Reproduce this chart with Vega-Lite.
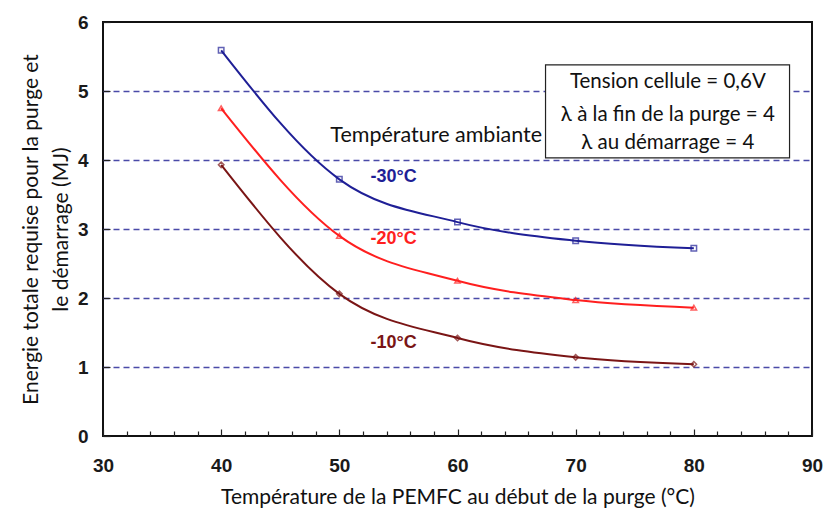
{
  "$schema": "https://vega.github.io/schema/vega-lite/v6.json",
  "width": 709,
  "height": 414,
  "autosize": "none",
  "padding": {"left": 103, "top": 22, "right": 18, "bottom": 75},
  "background": "white",
  "config": {
    "view": {"stroke": "#111111", "strokeWidth": 2},
    "axis": {
      "domain": false,
      "labelFont": "Liberation Sans",
      "labelFontWeight": "bold",
      "labelFontSize": 19,
      "labelColor": "#1a1a1a",
      "tickColor": "#222222",
      "tickWidth": 1.2,
      "titleFont": "Lato",
      "titleFontWeight": "normal",
      "titleFontSize": 21,
      "titleColor": "#111111"
    }
  },
  "encoding": {
    "x": {
      "field": "x", "type": "quantitative",
      "scale": {"domain": [30, 90], "nice": false},
      "axis": {
        "title": "Température de la PEMFC au début de la purge (°C)",
        "tickCount": 40,
        "format": "d",
        "labelExpr": "datum.value % 10 === 0 ? datum.label : ''",
        "tickSize": {"condition": {"test": "datum.value % 10 === 0", "value": -7}, "value": -5},
        "labelPadding": 27,
        "labelFlush": false,
        "labelOverlap": false,
        "grid": false,
        "titlePadding": 9
      }
    },
    "y": {
      "field": "y", "type": "quantitative",
      "scale": {"domain": [0, 6], "nice": false},
      "axis": {
        "title": ["Energie totale requise pour la purge et", "le démarrage (MJ)"],
        "titleLineHeight": 30,
        "tickCount": 40,
        "format": "d",
        "labelExpr": "abs(datum.value - round(datum.value)) < 0.01 ? datum.label : ''",
        "tickSize": {"condition": {"test": "abs(datum.value - round(datum.value)) < 0.01", "value": -7}, "value": -5},
        "labelPadding": 22,
        "labelFlush": false,
        "labelOverlap": false,
        "grid": true,
        "gridColor": "#4a4aa8",
        "gridDash": [6, 4],
        "gridWidth": 1.5,
        "gridOpacity": {"condition": {"test": "abs(datum.value - round(datum.value)) < 0.01 && datum.value > 0.5 && datum.value < 5.5", "value": 1}, "value": 0},
        "titlePadding": 6
      }
    }
  },
  "layer": [
    {
      "data": {"values": [
        {"serie": "-30°C", "x": 40, "y": 5.59},
        {"serie": "-30°C", "x": 50, "y": 3.72},
        {"serie": "-30°C", "x": 60, "y": 3.10},
        {"serie": "-30°C", "x": 70, "y": 2.83},
        {"serie": "-30°C", "x": 80, "y": 2.72},
        {"serie": "-20°C", "x": 40, "y": 4.75},
        {"serie": "-20°C", "x": 50, "y": 2.90},
        {"serie": "-20°C", "x": 60, "y": 2.25},
        {"serie": "-20°C", "x": 70, "y": 1.97},
        {"serie": "-20°C", "x": 80, "y": 1.86},
        {"serie": "-10°C", "x": 40, "y": 3.93},
        {"serie": "-10°C", "x": 50, "y": 2.06},
        {"serie": "-10°C", "x": 60, "y": 1.42},
        {"serie": "-10°C", "x": 70, "y": 1.14},
        {"serie": "-10°C", "x": 80, "y": 1.04}
      ]},
      "layer": [
        {
          "mark": {"type": "line", "interpolate": "monotone", "strokeWidth": 2},
          "encoding": {
            "color": {
              "field": "serie", "type": "nominal",
              "scale": {"domain": ["-30°C", "-20°C", "-10°C"], "range": ["#1f1f96", "#ff1f1f", "#7a1515"]},
              "legend": null
            }
          }
        },
        {
          "mark": {"type": "point", "filled": false, "size": 30, "strokeWidth": 1.5},
          "encoding": {
            "color": {"field": "serie", "type": "nominal", "legend": null},
            "shape": {
              "field": "serie", "type": "nominal",
              "scale": {"domain": ["-30°C", "-20°C", "-10°C"], "range": ["square", "triangle-up", "diamond"]},
              "legend": null
            }
          }
        }
      ]
    },
    {
      "data": {"values": [{"x": 67.45, "x2": 88.1, "y": 5.38, "y2": 4.03}]},
      "mark": {"type": "rect", "fill": "white", "stroke": "#222222", "strokeWidth": 1.2},
      "encoding": {
        "x2": {"field": "x2"},
        "y2": {"field": "y2"}
      }
    },
    {
      "data": {"values": [
        {"t": "Tension cellule = 0,6V", "x": 77.8, "y": 5.13, "s": "box"},
        {"t": "λ à la fin de la purge = 4", "x": 77.8, "y": 4.65, "s": "box"},
        {"t": "λ au démarrage = 4", "x": 77.8, "y": 4.25, "s": "box"},
        {"t": "Température ambiante", "x": 58.2, "y": 4.35, "s": "amb"}
      ]},
      "mark": {"type": "text", "font": "Lato", "color": "#111111", "align": "center", "baseline": "middle"},
      "encoding": {
        "text": {"field": "t"},
        "size": {"field": "s", "type": "nominal", "scale": {"domain": ["box", "amb"], "range": [20.5, 21.5]}, "legend": null}
      }
    },
    {
      "data": {"values": [
        {"t": "-30°C", "x": 54.6, "y": 3.75, "serie": "-30°C"},
        {"t": "-20°C", "x": 54.6, "y": 2.85, "serie": "-20°C"},
        {"t": "-10°C", "x": 54.6, "y": 1.35, "serie": "-10°C"}
      ]},
      "mark": {"type": "text", "font": "Liberation Sans", "fontWeight": "bold", "fontSize": 18, "align": "center", "baseline": "middle"},
      "encoding": {
        "text": {"field": "t"},
        "color": {"field": "serie", "type": "nominal", "legend": null}
      }
    }
  ]
}
